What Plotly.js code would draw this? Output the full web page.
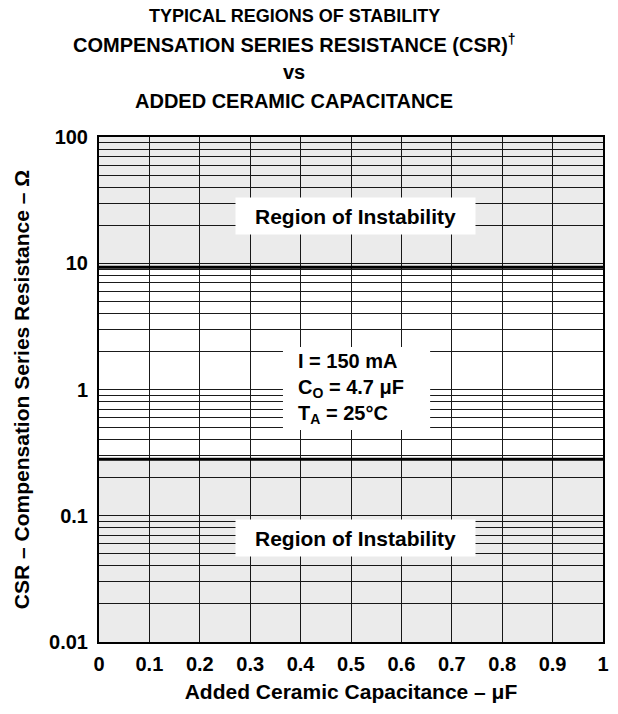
<!DOCTYPE html>
<html>
<head>
<meta charset="utf-8">
<script src="https://cdn.plot.ly/plotly-3.0.1.min.js"></script>
<style>html,body{margin:0;padding:0;background:#fff;}#chart{width:618px;height:714px;}</style>
</head>
<body>
<div id="chart"></div>
<script>
// ---- data ----
const xRange = [0, 1];
const xTickVals = [0, 0.1, 0.2, 0.3, 0.4, 0.5, 0.6, 0.7, 0.8, 0.9, 1];
const xTickText = ['0', '0.1', '0.2', '0.3', '0.4', '0.5', '0.6', '0.7', '0.8', '0.9', '1'];
const yTickVals = [0.01, 0.1, 1, 10, 100];
const yTickText = ['0.01', '0.1', '1', '10', '100'];
const yMin = 0.01, yMax = 100;
const upperBoundary = 9.3;   // CSR above this: unstable
const lowerBoundary = 0.28;  // CSR below this: unstable
const titleLines = ['TYPICAL REGIONS OF STABILITY', 'COMPENSATION SERIES RESISTANCE (CSR)<sup>†</sup>', 'vs', 'ADDED CERAMIC CAPACITANCE'];
const regionLabel = 'Region of Instability';
const conditionsText = 'I = 150 mA<br>C<sub>O</sub> = 4.7 μF<br>T<sub>A</sub> = 25°C';

// ---- style ----
const FONT = 'Liberation Sans, Arial, Helvetica, sans-serif';
const grayFill = 'rgba(0,0,0,0.08)';
const gridCol = '#1a1a1a';

const traces = [
  {x: [xRange[0], xRange[1], xRange[1], xRange[0]], y: [upperBoundary, upperBoundary, yMax, yMax],
   fill: 'toself', fillcolor: grayFill, mode: 'lines', line: {width: 0}, hoverinfo: 'skip', showlegend: false},
  {x: [xRange[0], xRange[1], xRange[1], xRange[0]], y: [yMin, yMin, lowerBoundary, lowerBoundary],
   fill: 'toself', fillcolor: grayFill, mode: 'lines', line: {width: 0}, hoverinfo: 'skip', showlegend: false},
  {x: xRange, y: [upperBoundary, upperBoundary], mode: 'lines', line: {color: '#000', width: 3}, showlegend: false},
  {x: xRange, y: [lowerBoundary, lowerBoundary], mode: 'lines', line: {color: '#000', width: 3}, showlegend: false}
];

const titleY = [16, 43, 72, 101]; // px from top
const titleSize = [18, 20, 20, 20];
const plotTop = 137, plotBottom = 642, plotH = plotBottom - plotTop;
const py = p => (plotBottom - p) / plotH;
const annotations = titleLines.map((t, i) => ({
  text: t, xref: 'paper', yref: 'paper', x: 0.387, y: py(titleY[i]),
  xanchor: 'center', yanchor: 'middle', showarrow: false,
  font: {family: FONT, size: titleSize[i], weight: 'bold', color: '#000'}
}));
annotations.push(
  {text: regionLabel, xref: 'x', yref: 'paper', x: 0.509, y: py(197),
   showarrow: false, bgcolor: '#fff', borderpad: 0, width: 239, height: 36,
   font: {family: FONT, size: 21, weight: 'bold', color: '#000'}},
  {text: regionLabel, xref: 'x', yref: 'paper', x: 0.509, y: py(557),
   showarrow: false, bgcolor: '#fff', borderpad: 0, width: 239, height: 36,
   font: {family: FONT, size: 21, weight: 'bold', color: '#000'}},
  {text: conditionsText, xref: 'x', yref: 'paper', x: 0.391, y: py(388),
   xanchor: 'left', yanchor: 'middle', showarrow: false, align: 'left',
   font: {family: FONT, size: 20, weight: 'bold', color: '#000'}}
);

// white backing box behind the conditions text (covers the grid)
const shapes = [
  {type: 'rect', layer: 'above', xref: 'x', yref: 'paper',
   x0: 0.365, x1: 0.657, y0: py(430), y1: py(347),
   fillcolor: '#fff', line: {width: 0}}
];

const layout = {
  width: 618, height: 714,
  margin: {l: 99, r: 15, t: 137, b: 72, pad: 0},
  paper_bgcolor: '#fff', plot_bgcolor: '#fff',
  showlegend: false,
  font: {family: FONT, color: '#000'},
  xaxis: {
    range: xRange, tickvals: xTickVals, ticktext: xTickText,
    showgrid: true, gridcolor: gridCol, gridwidth: 1, zeroline: false,
    showline: true, mirror: true, linecolor: '#000', linewidth: 2,
    ticks: '', ticklabelstandoff: 3,
    tickfont: {family: FONT, size: 20, weight: 'bold'},
    title: {text: 'Added Ceramic Capacitance – μF', standoff: 10,
            font: {family: FONT, size: 21, weight: 'bold'}}
  },
  yaxis: {
    type: 'log', range: [Math.log10(yMin), Math.log10(yMax)],
    tickvals: yTickVals, ticktext: yTickText,
    showgrid: true, gridcolor: gridCol, gridwidth: 1, zeroline: false,
    minor: {dtick: 'D1', showgrid: true, gridcolor: gridCol, gridwidth: 1, ticks: ''},
    showline: true, mirror: true, linecolor: '#000', linewidth: 2,
    ticks: '', ticklabelstandoff: 5,
    tickfont: {family: FONT, size: 20, weight: 'bold'},
    title: {text: 'CSR – Compensation Series Resistance – Ω', standoff: 14,
            font: {family: FONT, size: 21, weight: 'bold'}}
  },
  shapes: shapes,
  annotations: annotations
};

Plotly.newPlot('chart', traces, layout, {displayModeBar: false, staticPlot: true});
</script>
</body>
</html>
